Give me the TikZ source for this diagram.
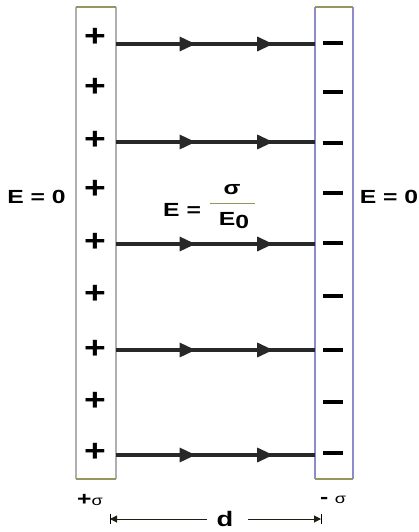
\documentclass[tikz,border=0pt]{standalone}
\usepackage{fontspec}
\setmainfont{Liberation Sans}
\usetikzlibrary{arrows.meta,decorations.markings}
\definecolor{olive}{RGB}{150,150,90}
\definecolor{plategray}{RGB}{175,175,175}
\definecolor{plateblue}{RGB}{140,140,205}
\definecolor{fieldc}{RGB}{40,40,40}
\newcommand{\wide}[1]{\scalebox{1.3}[1]{#1}}
\tikzset{
  lbl/.style={font=\bfseries\fontsize{19}{19}\selectfont, inner sep=0pt, text=black},
  sgn/.style={font=\bfseries\fontsize{31}{31}\selectfont, inner sep=0pt},
  fieldline/.style={draw=fieldc, line width=3.2pt,
    decoration={markings,
      mark=at position 0.40 with {\arrow{Triangle[length=16pt,width=14pt]}},
      mark=at position 0.79 with {\arrow{Triangle[length=16pt,width=14pt]}}},
    postaction={decorate}},
  minus/.style={line width=3.2pt, black},
}
\begin{document}
\begin{tikzpicture}[x=1pt,y=-1pt]
\useasboundingbox (0,0) rectangle (418,532);
% plates
\draw[plategray, line width=1.2pt] (76,7) -- (76,479) (116,7) -- (116,479);
\draw[olive, line width=1.2pt] (76,7) -- (116,7) (76,479) -- (116,479);
\draw[plateblue, line width=1.2pt] (315,7) -- (315,479) (353,7) -- (353,479);
\draw[olive, line width=1.2pt] (315,7) -- (353,7) (315,479) -- (353,479);
\coordinate (L1) at (116,44); \coordinate (R1) at (315,44);
\coordinate (L2) at (116,142); \coordinate (R2) at (315,142);
\coordinate (L3) at (116,244); \coordinate (R3) at (315,244);
\coordinate (L4) at (116,350); \coordinate (R4) at (315,350);
\coordinate (L5) at (116,455); \coordinate (R5) at (315,455);
\foreach \i in {1,...,5} { \path[fieldline] (L\i) -- (R\i); }
% plus signs
\foreach \y [count=\k] in {37,87,140,189,242,294,349,401,452}
  \node[sgn] (p\k) at (95,\y) {\scalebox{1.2}[1]{+}};
% minus signs
\foreach \y [count=\k] in {43,92,143,193,243,296,350,402,453}
  \draw[minus] (323,\y) -- (343,\y);
% labels
\node[lbl] (e0l) at (36.5,197) {\wide{E = 0}};
\node[lbl] (e0r) at (389,197) {\wide{E = 0}};
\node[lbl, anchor=west] (eq) at (163,210) {\wide{E =}};
\node[lbl] (sig) at (232,190) {\wide{σ}};
\draw[olive, line width=0.9pt] (210,203) -- (255,203);
\node[lbl] (eps) at (234,221) {\wide{E\raisebox{-3pt}{0}}};
\node[lbl, anchor=west] (ps) at (77,500) {\wide{+}\fontsize{14}{14}\selectfont\mdseries\wide{σ}};
\node[lbl, anchor=west] (ms) at (320,500) {\wide{-}\,\,\fontsize{14}{14}\selectfont\mdseries\wide{σ}};
% distance d
\coordinate (dl) at (110,519);
\coordinate (dr) at (321,519);
\node[lbl, font=\bfseries\fontsize{21}{21}\selectfont, anchor=base] (d) at (225,526) {\wide{d}};
\draw[black!80!olive, line width=1pt, -{Triangle[length=7pt,width=7pt]}] (207,519) -- (dl);
\draw[black!80!olive, line width=1pt, -{Triangle[length=7pt,width=7pt]}] (248,519) -- (dr);
\draw[black, line width=0.9pt] (110,514) -- (110,524) (321,514) -- (321,524);
\end{tikzpicture}
\end{document}
